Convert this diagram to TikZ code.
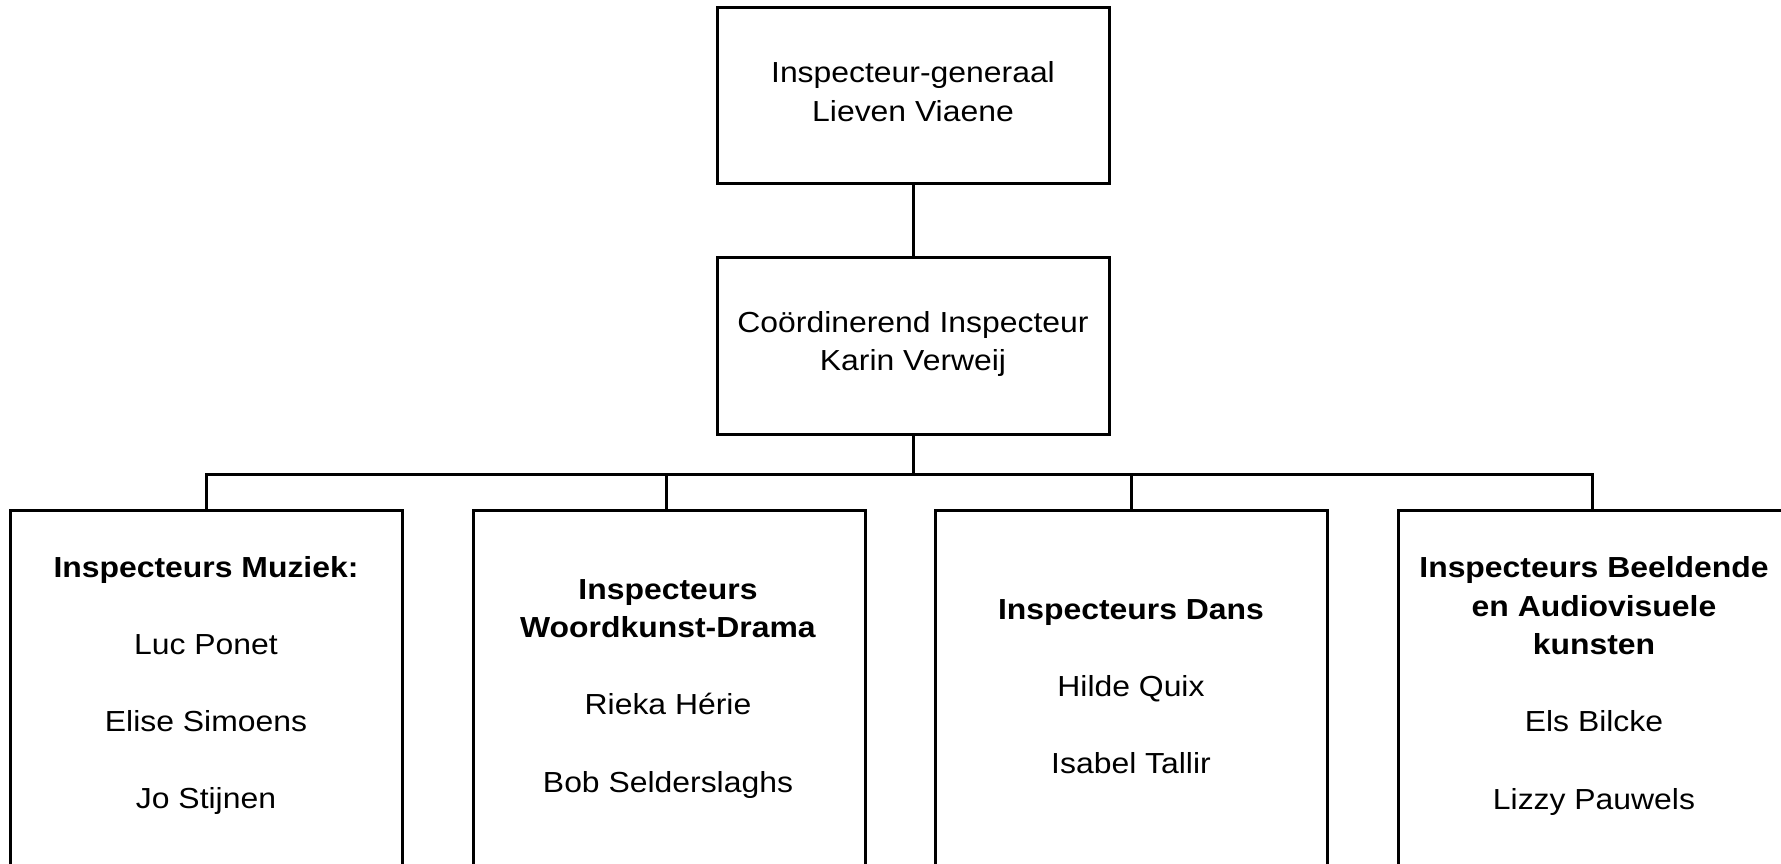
\documentclass[tikz,border=0pt]{standalone}
\usepackage{fontspec}
\setmainfont[FakeStretch=1.1]{Liberation Sans}
\begin{document}
\begin{tikzpicture}[x=1pt,y=-1pt,
  orgbox/.style={draw=black, line width=3pt, fill=white, rectangle, minimum width=392pt, inner sep=0pt},
  txt/.style={anchor=base, inner sep=0pt, font=\fontsize{29}{38.6}\selectfont},
  link/.style={draw=black, line width=3pt}]
\useasboundingbox (0,0) rectangle (1781,864);
% boxes
\node[orgbox, minimum height=176pt] (ig) at (913,96) {};
\node[orgbox, minimum height=177pt] (ci) at (913,345.5) {};
\node[orgbox, minimum height=355pt] (mu) at (206,687.5) {};
\node[orgbox, minimum height=355pt] (wd) at (669,688) {};
\node[orgbox, minimum height=355pt] (da) at (1131,687.5) {};
\node[orgbox, minimum height=355pt] (bk) at (1594,688) {};
% connectors
\coordinate (bus) at (913,474);
\draw[link] (ig.south) -- (ci.north);
\draw[link] (ci.south) -- (bus);
\draw[link, line join=miter] (bus) -| (mu.north);
\draw[link, line join=miter] (bus) -| ([xshift=-3pt]wd.north);
\draw[link, line join=miter] (bus) -| (da.north);
\draw[link, line join=miter] (bus) -| ([xshift=-2pt]bk.north);
% texts
\node[txt] (igt) at (913,83) {\begin{tabular}[t]{@{}c@{}}Inspecteur-generaal\\Lieven Viaene\end{tabular}};
\node[txt] (cit) at (913,332) {\begin{tabular}[t]{@{}c@{}}Coördinerend Inspecteur\\Karin Verweij\end{tabular}};
\node[txt] (mut) at (206,577) {\begin{tabular}[t]{@{}c@{}}\textbf{Inspecteurs Muziek:}\\ \\Luc Ponet\\ \\Elise Simoens\\ \\Jo Stijnen\end{tabular}};
\node[txt] (wdt) at (668,599) {\begin{tabular}[t]{@{}c@{}}\textbf{Inspecteurs}\\\textbf{Woordkunst-Drama}\\ \\Rieka Hérie\\ \\Bob Selderslaghs\end{tabular}};
\node[txt] (dat) at (1131,619) {\begin{tabular}[t]{@{}c@{}}\textbf{Inspecteurs Dans}\\ \\Hilde Quix\\ \\Isabel Tallir\end{tabular}};
\node[txt] (bkt) at (1594,577.5) {\begin{tabular}[t]{@{}c@{}}\textbf{Inspecteurs Beeldende}\\\textbf{en Audiovisuele}\\\textbf{kunsten}\\ \\Els Bilcke\\ \\Lizzy Pauwels\end{tabular}};
\end{tikzpicture}
\end{document}
